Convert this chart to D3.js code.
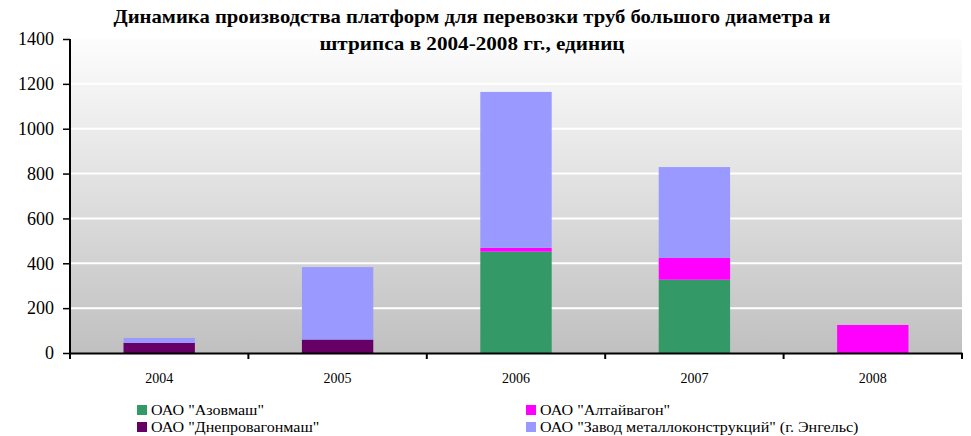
<!DOCTYPE html>
<html>
<head>
<meta charset="utf-8">
<script src="https://cdn.jsdelivr.net/npm/d3@7"></script>
<style>
  body { margin: 0; background: #fff; }
  svg { display: block; }
  svg text { font-family: "Liberation Serif", "Times New Roman", serif; }
</style>
</head>
<body>
<svg class="chart"></svg>
<script>
// data
var years = ['2004', '2005', '2006', '2007', '2008'];
var seriesNames = [
  'ОАО "Азовмаш"',
  'ОАО "Алтайвагон"',
  'ОАО "Днепровагонмаш"',
  'ОАО "Завод металлоконструкций" (г. Энгельс)'
];
var azovmash = [0, 0, 452, 327, 0];
var altaivagon = [0, 0, 17, 97, 125];
var dneprovagonmash = [45, 60, 0, 0, 0];
var zavod = [22, 323, 695, 405, 0];
var yTicks = [0, 200, 400, 600, 800, 1000, 1200, 1400];
var titleLines = [
  'Динамика производства платформ для перевозки труб большого диаметра и',
  'штрипса в 2004-2008 гг., единиц'
];

var colors = ['#339966', '#ff00ff', '#660066', '#9999ff'];
var values = [azovmash, altaivagon, dneprovagonmash, zavod];

// chart
var width = 971;
var height = 436;
var margin = {left: 70, right: 9, top: 39, bottom: 83};

var chart = d3.select('.chart')
    .attr('width', width)
    .attr('height', height);

var table = years.map(function(y, i) {
  var row = {year: y};
  seriesNames.forEach(function(s, k) { row[s] = values[k][i]; });
  return row;
});

var layers = d3.stack().keys(seriesNames)(table);

var x = d3.scaleBand()
    .domain(years)
    .range([margin.left, width - margin.right])
    .paddingInner(0.6)
    .paddingOuter(0.3);

var xOuter = d3.scaleBand()
    .domain(years)
    .range([margin.left, width - margin.right]);

var y = d3.scaleLinear()
    .domain([0, 1400])
    .range([height - margin.bottom, margin.top]);

// background gradient
var grad = chart.append('defs').append('linearGradient')
    .attr('id', 'bg')
    .attr('x1', 0).attr('y1', 0).attr('x2', 0).attr('y2', 1);
grad.append('stop').attr('offset', '0%').attr('stop-color', '#fdfdfd');
grad.append('stop').attr('offset', '100%').attr('stop-color', '#c0c0c0');

chart.append('rect')
    .attr('x', margin.left)
    .attr('y', margin.top)
    .attr('width', width - margin.left - margin.right)
    .attr('height', height - margin.top - margin.bottom)
    .attr('fill', 'url(#bg)');

// gridlines
chart.append('g')
  .selectAll('line')
    .data(yTicks.slice(1, -1))
  .enter().append('line')
    .attr('x1', margin.left)
    .attr('x2', width - margin.right)
    .attr('y1', function(d) { return y(d); })
    .attr('y2', function(d) { return y(d); })
    .attr('stroke', '#ffffff')
    .attr('stroke-width', 2);

// bars
chart.append('g')
  .selectAll('g')
    .data(layers)
  .enter().append('g')
    .attr('fill', function(d, i) { return colors[i]; })
  .selectAll('rect')
    .data(function(d) { return d; })
  .enter().append('rect')
    .attr('x', function(d) { return x(d.data.year); })
    .attr('width', x.bandwidth())
    .attr('y', function(d) { return y(d[1]); })
    .attr('height', function(d) { return y(d[0]) - y(d[1]); });

// axes
var yAxis = d3.axisLeft(y)
    .tickValues(yTicks)
    .tickFormat(d3.format('d'))
    .tickSize(7)
    .tickPadding(9);

var gy = chart.append('g')
    .attr('transform', 'translate(' + margin.left + ',0)')
    .call(yAxis);
gy.select('.domain').attr('stroke', '#000').attr('stroke-width', 2).attr('d', 'M0,' + y(1400) + 'V' + y(0));
gy.selectAll('.tick line').attr('stroke', '#000').attr('stroke-width', 1.5);
gy.selectAll('text')
    .attr('font-family', '"Liberation Serif", serif')
    .attr('font-size', 18)
    .attr('fill', '#000');

var xAxis = d3.axisBottom(xOuter).tickSize(0).tickPadding(20);
var gx = chart.append('g')
    .attr('transform', 'translate(0,' + y(0) + ')')
    .call(xAxis);
gx.select('.domain').attr('stroke', '#000').attr('stroke-width', 2);
gx.selectAll('text')
    .attr('font-family', '"Liberation Serif", serif')
    .attr('font-size', 14)
    .attr('fill', '#000');

// category separators
var seps = [margin.left].concat(years.map(function(d) { return xOuter(d) + xOuter.bandwidth(); }));
gx.selectAll('.sep')
    .data(seps)
  .enter().append('line')
    .attr('x1', function(d) { return d; })
    .attr('x2', function(d) { return d; })
    .attr('y1', 0)
    .attr('y2', 6)
    .attr('stroke', '#000')
    .attr('stroke-width', 2);

// title
var titleWidths = [717, 305];
chart.append('g')
  .selectAll('text')
    .data(titleLines)
  .enter().append('text')
    .attr('x', 472)
    .attr('y', function(d, i) { return 23 + i * 27; })
    .attr('text-anchor', 'middle')
    .attr('font-weight', 'bold')
    .attr('font-size', 19)
    .attr('textLength', function(d, i) { return titleWidths[i]; })
    .attr('lengthAdjust', 'spacingAndGlyphs')
    .attr('fill', '#000')
    .text(function(d) { return d; });

// legend
var legendPos = [[137, 405], [526, 405], [137, 422], [526, 422]];
var legend = chart.append('g')
  .selectAll('g')
    .data(seriesNames)
  .enter().append('g')
    .attr('transform', function(d, i) { return 'translate(' + legendPos[i][0] + ',' + legendPos[i][1] + ')'; });
legend.append('rect')
    .attr('width', 10)
    .attr('height', 10)
    .attr('fill', function(d, i) { return colors[i]; });
legend.append('text')
    .attr('x', 14)
    .attr('y', 10)
    .attr('font-size', 15)
    .attr('fill', '#000')
    .text(function(d) { return d; })
    .each(function() {
      // reference legend font runs a bit wider
      var w = this.getComputedTextLength();
      d3.select(this)
        .attr('textLength', w * 1.07)
        .attr('lengthAdjust', 'spacingAndGlyphs');
    });
</script>
</body>
</html>
